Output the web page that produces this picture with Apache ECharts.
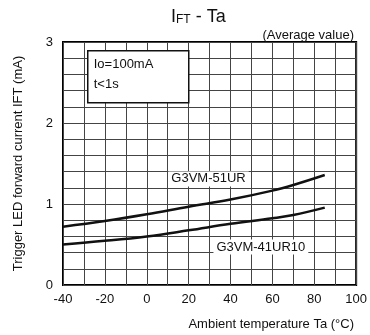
<!DOCTYPE html>
<html>
<head>
<meta charset="utf-8">
<script src="https://cdn.jsdelivr.net/npm/echarts@6/dist/echarts.min.js"></script>
<style>
  html, body { margin: 0; padding: 0; background: #fff; }
  #chart { width: 370px; height: 335px; }
</style>
</head>
<body>
<div id="chart"></div>
<script>
  // temperatures (°C)
  const temps = [-40, -20, 0, 20, 40, 60, 70, 85];
  const g51ur = [0.72, 0.79, 0.873, 0.967, 1.055, 1.165, 1.235, 1.358];
  const g41ur10 = [0.5, 0.545, 0.6, 0.675, 0.755, 0.823, 0.864, 0.955];
  const xTicks = [-40, -20, 0, 20, 40, 60, 80, 100];
  const yTicks = [0, 1, 2, 3];

  const font = 'Liberation Sans, Arial, sans-serif';
  const chart = echarts.init(document.getElementById('chart'));

  function pairs(xs, ys) {
    return xs.map((x, i) => [x, ys[i]]);
  }

  function curveLabel(name, coord) {
    return {
      silent: true,
      symbol: 'rect',
      symbolSize: 0,
      data: [{ coord: coord }],
      label: {
        show: true,
        position: 'inside',
        formatter: name,
        color: '#111',
        fontFamily: font,
        fontSize: 13,
        backgroundColor: '#fff',
        padding: [1, 3],
      },
    };
  }

  const option = {
    animation: false,
    title: [
      {
        text: '{a|I}{b|FT}{a| - Ta}',
        left: 166,
        top: 3,
        textStyle: {
          rich: {
            a: { fontFamily: font, fontSize: 18, fontWeight: 'normal', color: '#111' },
            b: { fontFamily: font, fontSize: 12, fontWeight: 'normal', color: '#111', verticalAlign: 'bottom', padding: [6, 0, 0, 0] },
          },
        },
      },
      {
        text: '(Average value)',
        right: 11,
        top: 24,
        textStyle: { fontFamily: font, fontSize: 13, fontWeight: 'normal', color: '#111' },
      },
      {
        text: 'Ambient temperature Ta (°C)',
        right: 11,
        top: 313,
        textStyle: { fontFamily: font, fontSize: 13, fontWeight: 'normal', color: '#111' },
      },
    ],
    grid: {
      left: 63,
      right: 11,
      top: 42,
      bottom: 50,
      show: true,
      borderColor: '#000',
      borderWidth: 2,
    },
    xAxis: {
      type: 'value',
      min: -40,
      max: 100,
      interval: 10,
      axisLine: { show: false },
      axisTick: { show: false },
      splitLine: { lineStyle: { color: '#444', width: 1 } },
      axisLabel: {
        margin: 8,
        fontFamily: font,
        fontSize: 13,
        color: '#111',
        formatter: (v) => (xTicks.indexOf(v) >= 0 ? String(v) : ''),
      },
    },
    yAxis: {
      type: 'value',
      min: 0,
      max: 3,
      interval: 0.2,
      name: 'Trigger LED forward current IFT (mA)',
      nameLocation: 'middle',
      nameGap: 38,
      nameTextStyle: { fontFamily: font, fontSize: 13, color: '#111' },
      axisLine: { show: false },
      axisTick: { show: false },
      splitLine: { lineStyle: { color: '#444', width: 1 } },
      axisLabel: {
        margin: 10,
        fontFamily: font,
        fontSize: 13,
        color: '#111',
        formatter: (v) => {
          const r = Math.round(v);
          return Math.abs(v - r) < 1e-6 && yTicks.indexOf(r) >= 0 ? String(r) : '';
        },
      },
    },
    graphic: [
      {
        type: 'group',
        left: 87,
        top: 50,
        z: 100,
        children: [
          {
            type: 'rect',
            z: 100,
            shape: { x: 0, y: 0, width: 101, height: 52 },
            style: { fill: '#fff', stroke: '#111', lineWidth: 1.5 },
          },
          {
            type: 'text',
            z: 101,
            x: 6,
            y: 7,
            style: { text: 'Io=100mA', font: '13px ' + font, fill: '#111' },
          },
          {
            type: 'text',
            z: 101,
            x: 6,
            y: 27,
            style: { text: 't<1s', font: '13px ' + font, fill: '#111' },
          },
        ],
      },
    ],
    series: [
      {
        name: 'G3VM-51UR',
        type: 'line',
        smooth: 0.4,
        symbol: 'none',
        data: pairs(temps, g51ur),
        lineStyle: { color: '#111', width: 2.5 },
        markPoint: curveLabel('G3VM-51UR', [29.5, 1.31]),
      },
      {
        name: 'G3VM-41UR10',
        type: 'line',
        smooth: 0.4,
        symbol: 'none',
        data: pairs(temps, g41ur10),
        lineStyle: { color: '#111', width: 2.5 },
        markPoint: curveLabel('G3VM-41UR10', [54.5, 0.47]),
      },
    ],
  };

  chart.setOption(option);
</script>
</body>
</html>
